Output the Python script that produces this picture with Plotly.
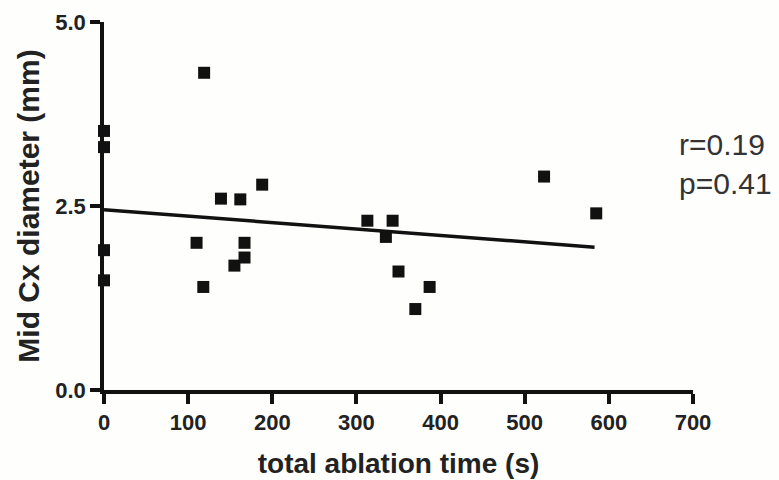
import plotly.graph_objects as go

# Data
ablation_time = [0, 0, 0, 0, 119, 110, 118, 139, 162, 188, 155, 167, 167,
                 313, 335, 343, 350, 370, 387, 523, 585]
cx_diameter = [3.52, 3.30, 1.90, 1.49, 4.31, 2.00, 1.40, 2.60, 2.59, 2.79, 1.69, 2.00, 1.80,
               2.30, 2.08, 2.30, 1.61, 1.10, 1.40, 2.90, 2.40]
fit_x = [0, 583]
fit_y = [2.45, 1.94]
x_ticks = [0, 100, 200, 300, 400, 500, 600, 700]
y_ticks = [0.0, 2.5, 5.0]
y_tick_labels = ["0.0", "2.5", "5.0"]
stats_text = "r=0.19<br>p=0.41"

FONT = "Liberation Sans, Arial, sans-serif"

fig = go.Figure()
fig.add_trace(go.Scatter(
    x=fit_x, y=fit_y, mode="lines",
    line=dict(color="#111111", width=3.5),
    showlegend=False, cliponaxis=False, hoverinfo="skip"))
fig.add_trace(go.Scatter(
    x=ablation_time, y=cx_diameter, mode="markers",
    marker=dict(symbol="square", size=12, color="#111111"),
    showlegend=False, cliponaxis=False))

fig.update_layout(
    width=779, height=480,
    margin=dict(l=104, r=86, t=22, b=90, autoexpand=False),
    paper_bgcolor="#fefefc", plot_bgcolor="#fefefc",
    font=dict(family=FONT, color="#222222"),
    xaxis=dict(
        range=[0, 700], tickvals=x_ticks, ticks="outside", ticklen=10, tickwidth=3.5,
        tickcolor="#111111", showline=True, linecolor="#111111", linewidth=3.5,
        showgrid=False, zeroline=False, automargin=False,
        tickfont=dict(family=FONT, size=22, weight="bold", color="#222222"),
        title=dict(text="total ablation time (s)", standoff=20,
                   font=dict(family=FONT, size=28, weight="bold", color="#222222")),
    ),
    yaxis=dict(
        range=[0, 5], tickvals=y_ticks, ticktext=y_tick_labels, ticks="outside", ticklen=10,
        tickwidth=3.5, tickcolor="#111111", showline=True, linecolor="#111111", linewidth=3.5,
        showgrid=False, zeroline=False, automargin=False,
        tickfont=dict(family=FONT, size=22, weight="bold", color="#222222"),
        title=dict(text="Mid Cx diameter (mm)", standoff=8,
                   font=dict(family=FONT, size=30, weight="bold", color="#222222")),
    ),
    annotations=[dict(
        text=stats_text, xref="paper", yref="paper", x=0.9725, y=0.615,
        xanchor="left", yanchor="middle", align="left", showarrow=False,
        font=dict(family=FONT, size=30, color="#333333"))],
)

fig.write_html("out.html", config={"displayModeBar": False},
               post_script="document.body.style.margin='0';document.body.style.padding='0';")
